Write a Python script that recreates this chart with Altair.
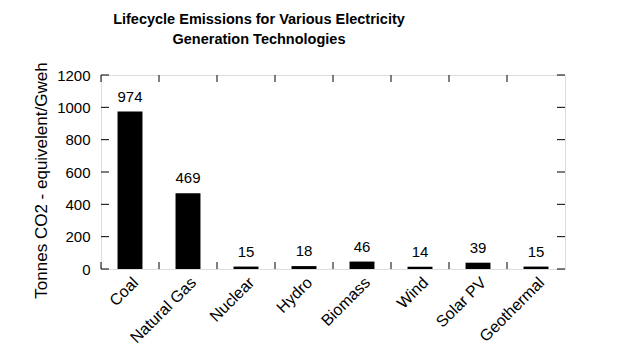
import altair as alt
import pandas as pd

categories = ["Coal", "Natural Gas", "Nuclear", "Hydro", "Biomass", "Wind", "Solar PV", "Geothermal"]
values = [974, 469, 15, 18, 46, 14, 39, 15]
y_ticks = [0, 200, 400, 600, 800, 1000, 1200]

df = pd.DataFrame({"cat": categories, "val": values})
tick_df = pd.DataFrame({"t": y_ticks})

W, H = 464, 194
FONT = "Liberation Sans"

xscale = alt.Scale(domain=categories, paddingInner=0, paddingOuter=0)
yscale = alt.Scale(domain=[0, 1200], nice=False)

xaxis = alt.Axis(title=None, labelAngle=-45, labelFontSize=16, labelPadding=5,
                 ticks=False, domain=False, labelFont=FONT, labelColor="black",
                 labelOverlap=False)
yaxis = alt.Axis(title="Tonnes CO2 - equivelent/Gweh", values=y_ticks, format="d",
                 ticks=False, domain=False, grid=False, labelFontSize=15,
                 labelPadding=11, labelOverlap=False,
                 labelFont=FONT, labelColor="black", titleFont=FONT,
                 titleFontSize=17, titleFontWeight="normal", titleColor="black",
                 titleX=-60, titleY=105, titleAngle=270, titleAlign="center",
                 titleBaseline="middle")

base = alt.Chart(df)

bars = base.mark_bar(color="black", width={"band": 0.43}).encode(
    x=alt.X("cat:N", scale=xscale, sort=categories, axis=xaxis),
    y=alt.Y("val:Q", scale=yscale, axis=yaxis),
)

labels = base.mark_text(baseline="alphabetic", dy=-10, fontSize=15, font=FONT, color="black").encode(
    x=alt.X("cat:N", scale=xscale, sort=categories, axis=xaxis),
    y=alt.Y("val:Q", scale=yscale, axis=yaxis),
    text=alt.Text("val:Q"),
)

xt_top = base.mark_rule(color="black", strokeWidth=1).encode(
    x=alt.X("cat:N", scale=xscale, sort=categories, bandPosition=0, axis=xaxis),
    y=alt.value(0), y2=alt.value(7),
)
xt_bot = base.mark_rule(color="black", strokeWidth=1).encode(
    x=alt.X("cat:N", scale=xscale, sort=categories, bandPosition=0, axis=xaxis),
    y=alt.value(H - 7), y2=alt.value(H),
)

yt_left = alt.Chart(tick_df).mark_rule(color="black", strokeWidth=1).encode(
    y=alt.Y("t:Q", scale=yscale, axis=yaxis), x=alt.value(0), x2=alt.value(8),
)
yt_right = alt.Chart(tick_df).mark_rule(color="black", strokeWidth=1).encode(
    y=alt.Y("t:Q", scale=yscale, axis=yaxis), x=alt.value(W - 8), x2=alt.value(W),
)

chart = alt.layer(bars, labels, xt_top, xt_bot, yt_left, yt_right).properties(
    width=W, height=H,
    title=alt.Title(["Lifecycle Emissions for Various Electricity", "Generation Technologies"],
                    fontSize=14.5, font=FONT, fontWeight="bold", color="black",
                    anchor="middle", dx=-74, offset=14, lineHeight=20),
    autosize=alt.AutoSizeParams(type="none"),
    padding={"left": 93, "top": 67, "right": 40, "bottom": 80},
).configure_view(stroke="black", strokeWidth=1).configure_axis(
    labelOverlap=False
).configure(background="white")

chart.save("out.html", embed_options={"renderer": "svg", "actions": False})
